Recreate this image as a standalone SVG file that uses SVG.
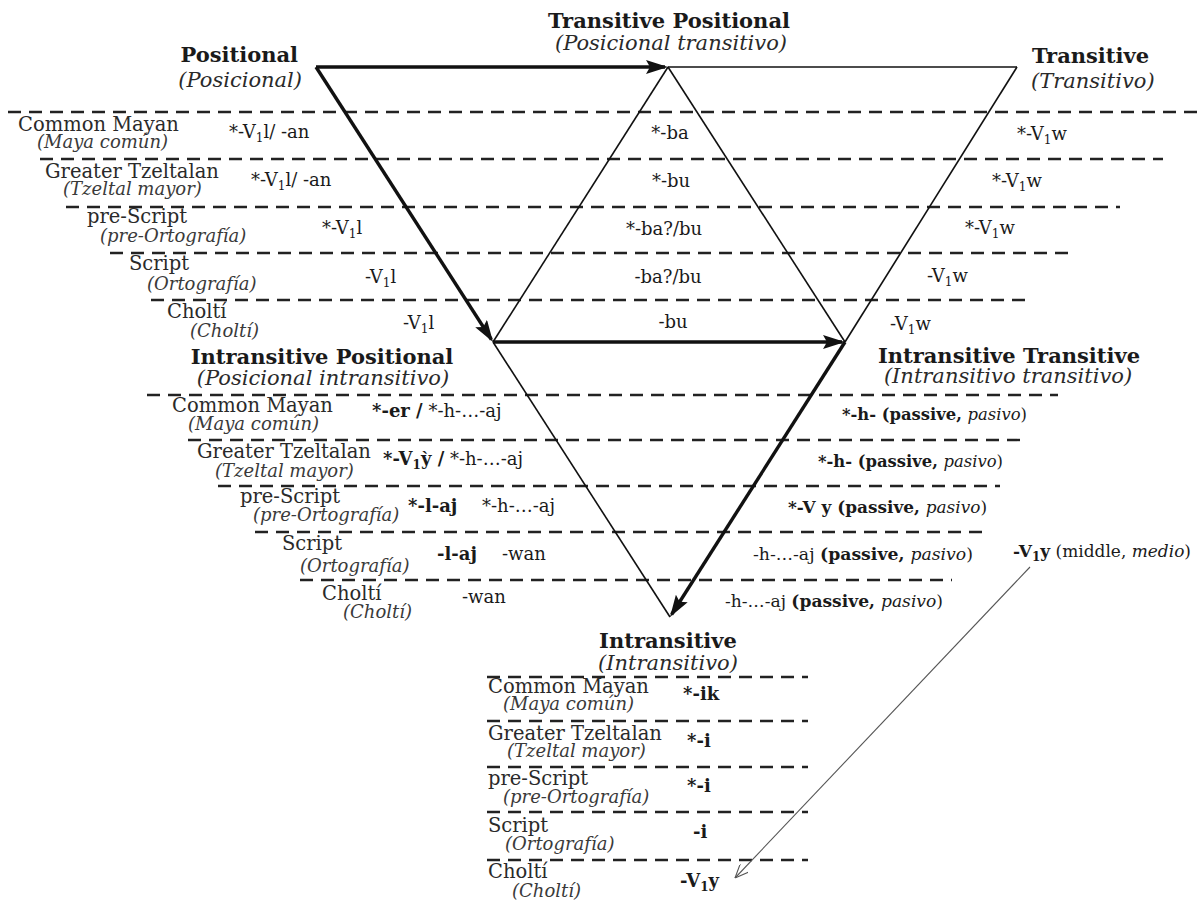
<svg xmlns="http://www.w3.org/2000/svg" width="1198" height="905" viewBox="0 0 1198 905">
<style>
text { font-family: "DejaVu Serif", "Liberation Serif", serif; fill:#1a1a1a; }
.lab { font-size:19.5px; fill:#2a2a2a; }
.it { font-style:italic; font-size:18px; fill:#3a3a3a; }
.m { font-size:18px; }
.p { font-size:17px; }
.b { font-weight:bold; }
.ttl { font-size:21px; font-weight:bold; }
.sub { font-size:21px; font-style:italic; fill:#2a2a2a; }
.dash { stroke:#222; stroke-width:2.4; stroke-dasharray:13 8; fill:none; }
.thick { stroke:#111; stroke-width:3.4; fill:none; }
.thin { stroke:#111; stroke-width:1.6; fill:none; }
.fine { stroke:#555; stroke-width:1.1; fill:none; }
</style>
<defs>
<marker id="ah" viewBox="0 0 22 14" refX="19" refY="7" markerWidth="22" markerHeight="14" orient="auto" markerUnits="userSpaceOnUse">
<path d="M0,0 L22,7 L0,14 L4,7 z" fill="#111"/>
</marker>
<marker id="oh" viewBox="0 0 14 12" refX="14" refY="6" markerWidth="14" markerHeight="12" orient="auto" markerUnits="userSpaceOnUse">
<path d="M0,0 L14,6 L0,12" fill="none" stroke="#555" stroke-width="1.1"/>
</marker>
</defs>
<rect width="1198" height="905" fill="#fff"/>

<g id="dashes">
<line class="dash" x1="8" y1="112" x2="1198" y2="112"/>
<line class="dash" x1="40" y1="159" x2="1163" y2="159"/>
<line class="dash" x1="66" y1="207" x2="1120" y2="207"/>
<line class="dash" x1="110" y1="253" x2="1075" y2="253"/>
<line class="dash" x1="151" y1="300" x2="1030" y2="300"/>
<line class="dash" x1="147" y1="395" x2="1058" y2="395"/>
<line class="dash" x1="188" y1="440" x2="1025" y2="440"/>
<line class="dash" x1="218" y1="486" x2="1000" y2="486"/>
<line class="dash" x1="255" y1="532" x2="982" y2="532"/>
<line class="dash" x1="300" y1="580" x2="952" y2="580"/>
<line class="dash" x1="487" y1="677" x2="808" y2="677"/>
<line class="dash" x1="487" y1="721" x2="808" y2="721"/>
<line class="dash" x1="487" y1="767" x2="808" y2="767"/>
<line class="dash" x1="487" y1="812" x2="808" y2="812"/>
<line class="dash" x1="487" y1="860" x2="808" y2="860"/>
</g>

<g id="connectors">
<line class="thin" x1="668" y1="67" x2="1017" y2="67"/>
<line class="thin" x1="1017" y1="67" x2="845" y2="342"/>
<line class="thin" x1="668" y1="67" x2="493" y2="342"/>
<line class="thin" x1="668" y1="67" x2="845" y2="342"/>
<line class="thin" x1="493" y1="342" x2="670" y2="617"/>
<line class="thick" x1="316" y1="67" x2="665" y2="67" marker-end="url(#ah)"/>
<line class="thick" x1="316" y1="67" x2="491.4" y2="339.5" marker-end="url(#ah)"/>
<line class="thick" x1="493" y1="342" x2="842" y2="342" marker-end="url(#ah)"/>
<line class="thick" x1="845" y1="342" x2="671.6" y2="614.5" marker-end="url(#ah)"/>
<line class="fine" x1="1030" y1="567" x2="735" y2="878" marker-end="url(#oh)"/>
</g>

<g id="node-positional">
<text class="ttl" x="298" y="62" text-anchor="end">Positional</text>
<text class="sub" x="302" y="87" text-anchor="end">(Posicional)</text>
</g>
<g id="node-transitive-positional">
<text class="ttl" x="669" y="28" text-anchor="middle">Transitive Positional</text>
<text class="sub" x="671" y="50" text-anchor="middle">(Posicional transitivo)</text>
</g>
<g id="node-transitive">
<text class="ttl" x="1032" y="63">Transitive</text>
<text class="sub" x="1031" y="88">(Transitivo)</text>
</g>
<g id="node-intransitive-positional">
<text class="ttl" x="322" y="364" text-anchor="middle">Intransitive Positional</text>
<text class="sub" x="323" y="385" text-anchor="middle">(Posicional intransitivo)</text>
</g>
<g id="node-intransitive-transitive">
<text class="ttl" x="1009" y="363" text-anchor="middle">Intransitive Transitive</text>
<text class="sub" x="1008" y="383" text-anchor="middle">(Intransitivo transitivo)</text>
</g>
<g id="node-intransitive">
<text class="ttl" x="668" y="648" text-anchor="middle">Intransitive</text>
<text class="sub" x="668" y="670" text-anchor="middle">(Intransitivo)</text>
</g>

<g id="top-rows">
<text class="lab" x="18" y="131">Common Mayan</text>
<text class="it" x="37" y="148">(Maya común)</text>
<text class="lab" x="45" y="178">Greater Tzeltalan</text>
<text class="it" x="63" y="195">(Tzeltal mayor)</text>
<text class="lab" x="87" y="223">pre-Script</text>
<text class="it" x="100" y="242">(pre-Ortografía)</text>
<text class="lab" x="129" y="270">Script</text>
<text class="it" x="147" y="290">(Ortografía)</text>
<text class="lab" x="167" y="318">Choltí</text>
<text class="it" x="190" y="337">(Choltí)</text>

<text class="m" x="229" y="138">*-V<tspan font-size="12" dy="4">1</tspan><tspan dy="-4">l/ -an</tspan></text>
<text class="m" x="251" y="186">*-V<tspan font-size="12" dy="4">1</tspan><tspan dy="-4">l/ -an</tspan></text>
<text class="m" x="322" y="234">*-V<tspan font-size="12" dy="4">1</tspan><tspan dy="-4">l</tspan></text>
<text class="m" x="365" y="283">-V<tspan font-size="12" dy="4">1</tspan><tspan dy="-4">l</tspan></text>
<text class="m" x="403" y="329">-V<tspan font-size="12" dy="4">1</tspan><tspan dy="-4">l</tspan></text>

<text class="m" x="670" y="139" text-anchor="middle">*-ba</text>
<text class="m" x="671" y="187" text-anchor="middle">*-bu</text>
<text class="m" x="664" y="235" text-anchor="middle">*-ba?/bu</text>
<text class="m" x="668" y="283" text-anchor="middle">-ba?/bu</text>
<text class="m" x="673" y="328" text-anchor="middle">-bu</text>

<text class="m" x="1017" y="140">*-V<tspan font-size="12" dy="4">1</tspan><tspan dy="-4">w</tspan></text>
<text class="m" x="992" y="187">*-V<tspan font-size="12" dy="4">1</tspan><tspan dy="-4">w</tspan></text>
<text class="m" x="965" y="234">*-V<tspan font-size="12" dy="4">1</tspan><tspan dy="-4">w</tspan></text>
<text class="m" x="927" y="282">-V<tspan font-size="12" dy="4">1</tspan><tspan dy="-4">w</tspan></text>
<text class="m" x="890" y="330">-V<tspan font-size="12" dy="4">1</tspan><tspan dy="-4">w</tspan></text>
</g>

<g id="middle-rows">
<text class="lab" x="172" y="412">Common Mayan</text>
<text class="it" x="188" y="430">(Maya común)</text>
<text class="lab" x="197" y="458">Greater Tzeltalan</text>
<text class="it" x="215" y="477">(Tzeltal mayor)</text>
<text class="lab" x="240" y="503">pre-Script</text>
<text class="it" x="253" y="521">(pre-Ortografía)</text>
<text class="lab" x="282" y="550">Script</text>
<text class="it" x="300" y="572">(Ortografía)</text>
<text class="lab" x="322" y="600">Choltí</text>
<text class="it" x="343" y="618">(Choltí)</text>

<text class="m" x="372" y="417"><tspan class="b">*-er /</tspan> *-h-…-aj</text>
<text class="m" x="383" y="465"><tspan class="b">*-V<tspan font-size="12" dy="4">1</tspan><tspan dy="-4">ỳ /</tspan></tspan> *-h-…-aj</text>
<text class="m" x="408" y="512"><tspan class="b">*-l-aj</tspan></text>
<text class="m" x="482" y="512">*-h-…-aj</text>
<text class="m" x="437" y="560"><tspan class="b">-l-aj</tspan></text>
<text class="m" x="502" y="560">-wan</text>
<text class="m" x="462" y="603">-wan</text>

<text class="p" x="842" y="420" textLength="185" lengthAdjust="spacingAndGlyphs"><tspan class="b">*-h- (passive, </tspan><tspan font-style="italic">pasivo</tspan>)</text>
<text class="p" x="818" y="467" textLength="185" lengthAdjust="spacingAndGlyphs"><tspan class="b">*-h- (passive, </tspan><tspan font-style="italic">pasivo</tspan>)</text>
<text class="p" x="788" y="513" textLength="199" lengthAdjust="spacingAndGlyphs"><tspan class="b">*-V y (passive, </tspan><tspan font-style="italic">pasivo</tspan>)</text>
<text class="p" x="753" y="560" textLength="220" lengthAdjust="spacingAndGlyphs">-h-…-aj <tspan class="b">(passive, </tspan><tspan font-style="italic">pasivo</tspan>)</text>
<text class="p" x="725" y="607" textLength="218" lengthAdjust="spacingAndGlyphs">-h-…-aj <tspan class="b">(passive, </tspan><tspan font-style="italic">pasivo</tspan>)</text>
<text class="p" x="1013" y="557" textLength="178" lengthAdjust="spacingAndGlyphs"><tspan class="b">-V<tspan font-size="12" dy="4">1</tspan><tspan dy="-4">y</tspan></tspan> (middle, <tspan font-style="italic">medio</tspan>)</text>
</g>

<g id="bottom-rows">
<text class="lab" x="488" y="693">Common Mayan</text>
<text class="it" x="503" y="710">(Maya común)</text>
<text class="lab" x="488" y="740">Greater Tzeltalan</text>
<text class="it" x="507" y="757">(Tzeltal mayor)</text>
<text class="lab" x="488" y="785">pre-Script</text>
<text class="it" x="503" y="803">(pre-Ortografía)</text>
<text class="lab" x="488" y="832">Script</text>
<text class="it" x="505" y="850">(Ortografía)</text>
<text class="lab" x="488" y="878">Choltí</text>
<text class="it" x="512" y="897">(Choltí)</text>

<text class="m b" x="683" y="700">*-ik</text>
<text class="m b" x="687" y="747">*-i</text>
<text class="m b" x="687" y="792">*-i</text>
<text class="m b" x="693" y="838">-i</text>
<text class="m b" x="680" y="887">-V<tspan font-size="12" dy="4">1</tspan><tspan dy="-4">y</tspan></text>
</g>
</svg>
